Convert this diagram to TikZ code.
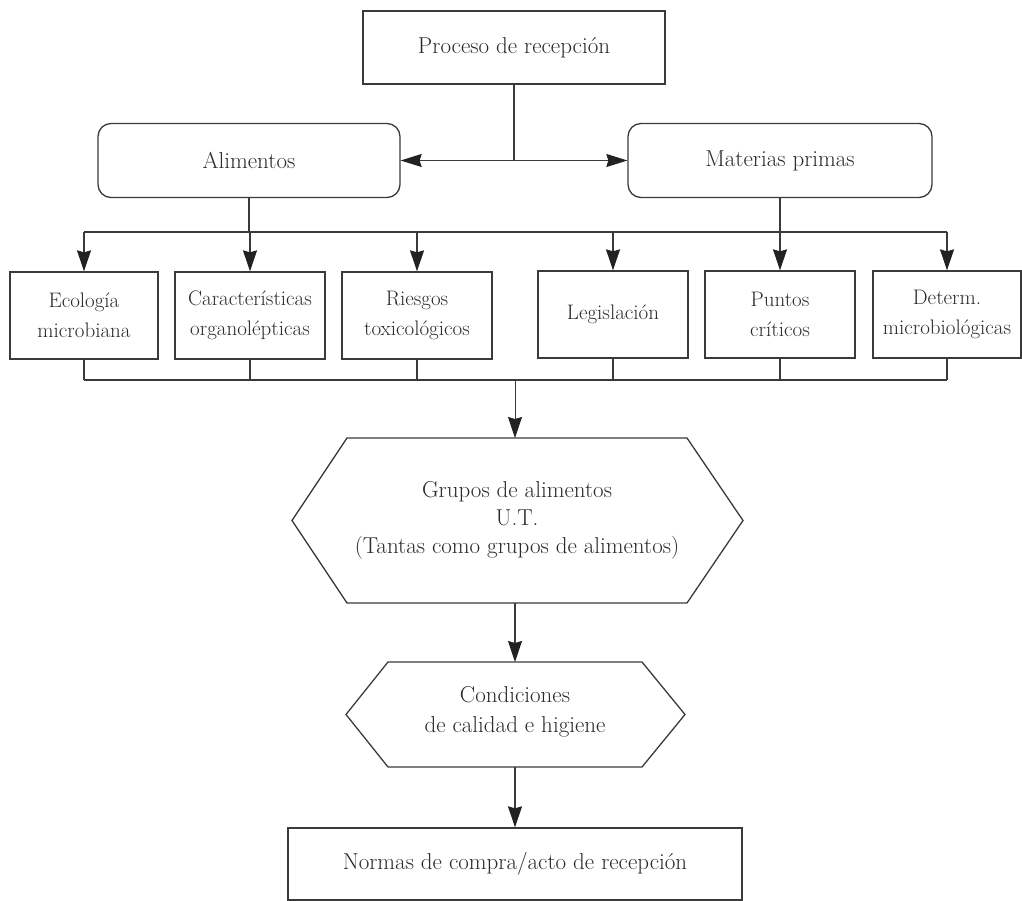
\documentclass[tikz,border=0pt]{standalone}
\usetikzlibrary{arrows.meta}
\definecolor{ink}{HTML}{3A3A3A}
\definecolor{txt}{HTML}{2A2A2A}
\definecolor{tipink}{HTML}{222222}
\begin{document}
\begin{tikzpicture}[x=1pt,y=-1pt,
  line width=1.3pt, draw=ink,
  tip/.style={-{Stealth[length=21pt,width=14pt,inset=2pt,color=tipink]}},
  dtip/.style={{Stealth[length=21pt,width=13pt,inset=2pt,color=tipink]}-{Stealth[length=21pt,width=13pt,inset=2pt,color=tipink]}},
  plainbox/.style={draw=ink, line width=1.3pt, inner sep=0pt, align=center, text=txt,
    font=\fontsize{23}{28}\selectfont},
  roundbox/.style={plainbox, rounded corners=13pt},
  topicbox/.style={plainbox, minimum height=87pt, font=\fontsize{21}{30}\selectfont},
  label/.style={inner sep=0pt, align=center, text=txt, font=\fontsize{23}{28}\selectfont}]

\useasboundingbox (0,0) rectangle (1022,901);

% upper level
\node[plainbox, minimum width=302pt, minimum height=73pt] (top) at (514,47.5) {Proceso de recepción};
\node[roundbox, minimum width=302pt, minimum height=74pt] (alim) at (249,160.5) {Alimentos};
\node[roundbox, minimum width=304pt, minimum height=74pt] (mat) at (780,160.5) {Materias primas};

\draw[dtip] (alim.east) -- (mat.west);
\coordinate (split) at (top.south |- alim.east);
\draw (top.south) -- (split);

% six topic boxes
\node[topicbox, minimum width=148pt] (b1) at (84,315.5) {Ecología\\microbiana};
\node[topicbox, minimum width=150pt] (b2) at (250,315.5) {Características\\organolépticas};
\node[topicbox, minimum width=150pt] (b3) at (417,315.5) {Riesgos\\toxicológicos};
\node[topicbox, minimum width=150pt] (b4) at (613,314.5) {Legislación};
\node[topicbox, minimum width=150pt] (b5) at (780,314.5) {Puntos\\críticos};
\node[topicbox, minimum width=148pt] (b6) at (947,314.5) {Determ.\\microbiológicas};

% distribution bus
\coordinate (busA) at (84,232);
\coordinate (busB) at (947,232);
\draw (alim.south) -- (alim.south |- busA);
\draw (mat.south) -- (mat.south |- busA);
\draw (busA) -- (busB);
\foreach \b in {b1,b2,b3,b4,b5,b6}
  \draw[tip] (\b.north |- busA) -- (\b.north);

% collecting bus
\coordinate (colA) at (84,380);
\coordinate (colB) at (947,380);
\foreach \b in {b1,b2,b3,b4,b5,b6}
  \draw (\b.south) -- (\b.south |- colA);
\draw (colA) -- (colB);

% food-group hexagon
\coordinate (h1n) at (515,438);
\coordinate (h1s) at (515,603);
\draw (347,438) -- (687,438) -- (743,520.5) -- (687,603) -- (347,603) -- (292,520.5) -- cycle;
\node[label] (h1) at (517,520) {Grupos de alimentos\\U.T.\\(Tantas como grupos de alimentos)};
\draw[tip, line width=0.9pt] (h1n |- colA) -- (h1n);

% hygiene hexagon
\coordinate (h2n) at (515,662);
\coordinate (h2s) at (515,767);
\draw (388,662) -- (642,662) -- (685,714.5) -- (642,767) -- (388,767) -- (346,714.5) -- cycle;
\node[label, font=\fontsize{23}{30}\selectfont] (h2) at (515,712) {Condiciones\\de calidad e higiene};
\draw[tip] (h1s) -- (h2n);

% final box
\node[plainbox, minimum width=454pt, minimum height=72pt] (norm) at (515,864) {Normas de compra/acto de recepción};
\draw[tip] (h2s) -- (norm.north);

\end{tikzpicture}
\end{document}
